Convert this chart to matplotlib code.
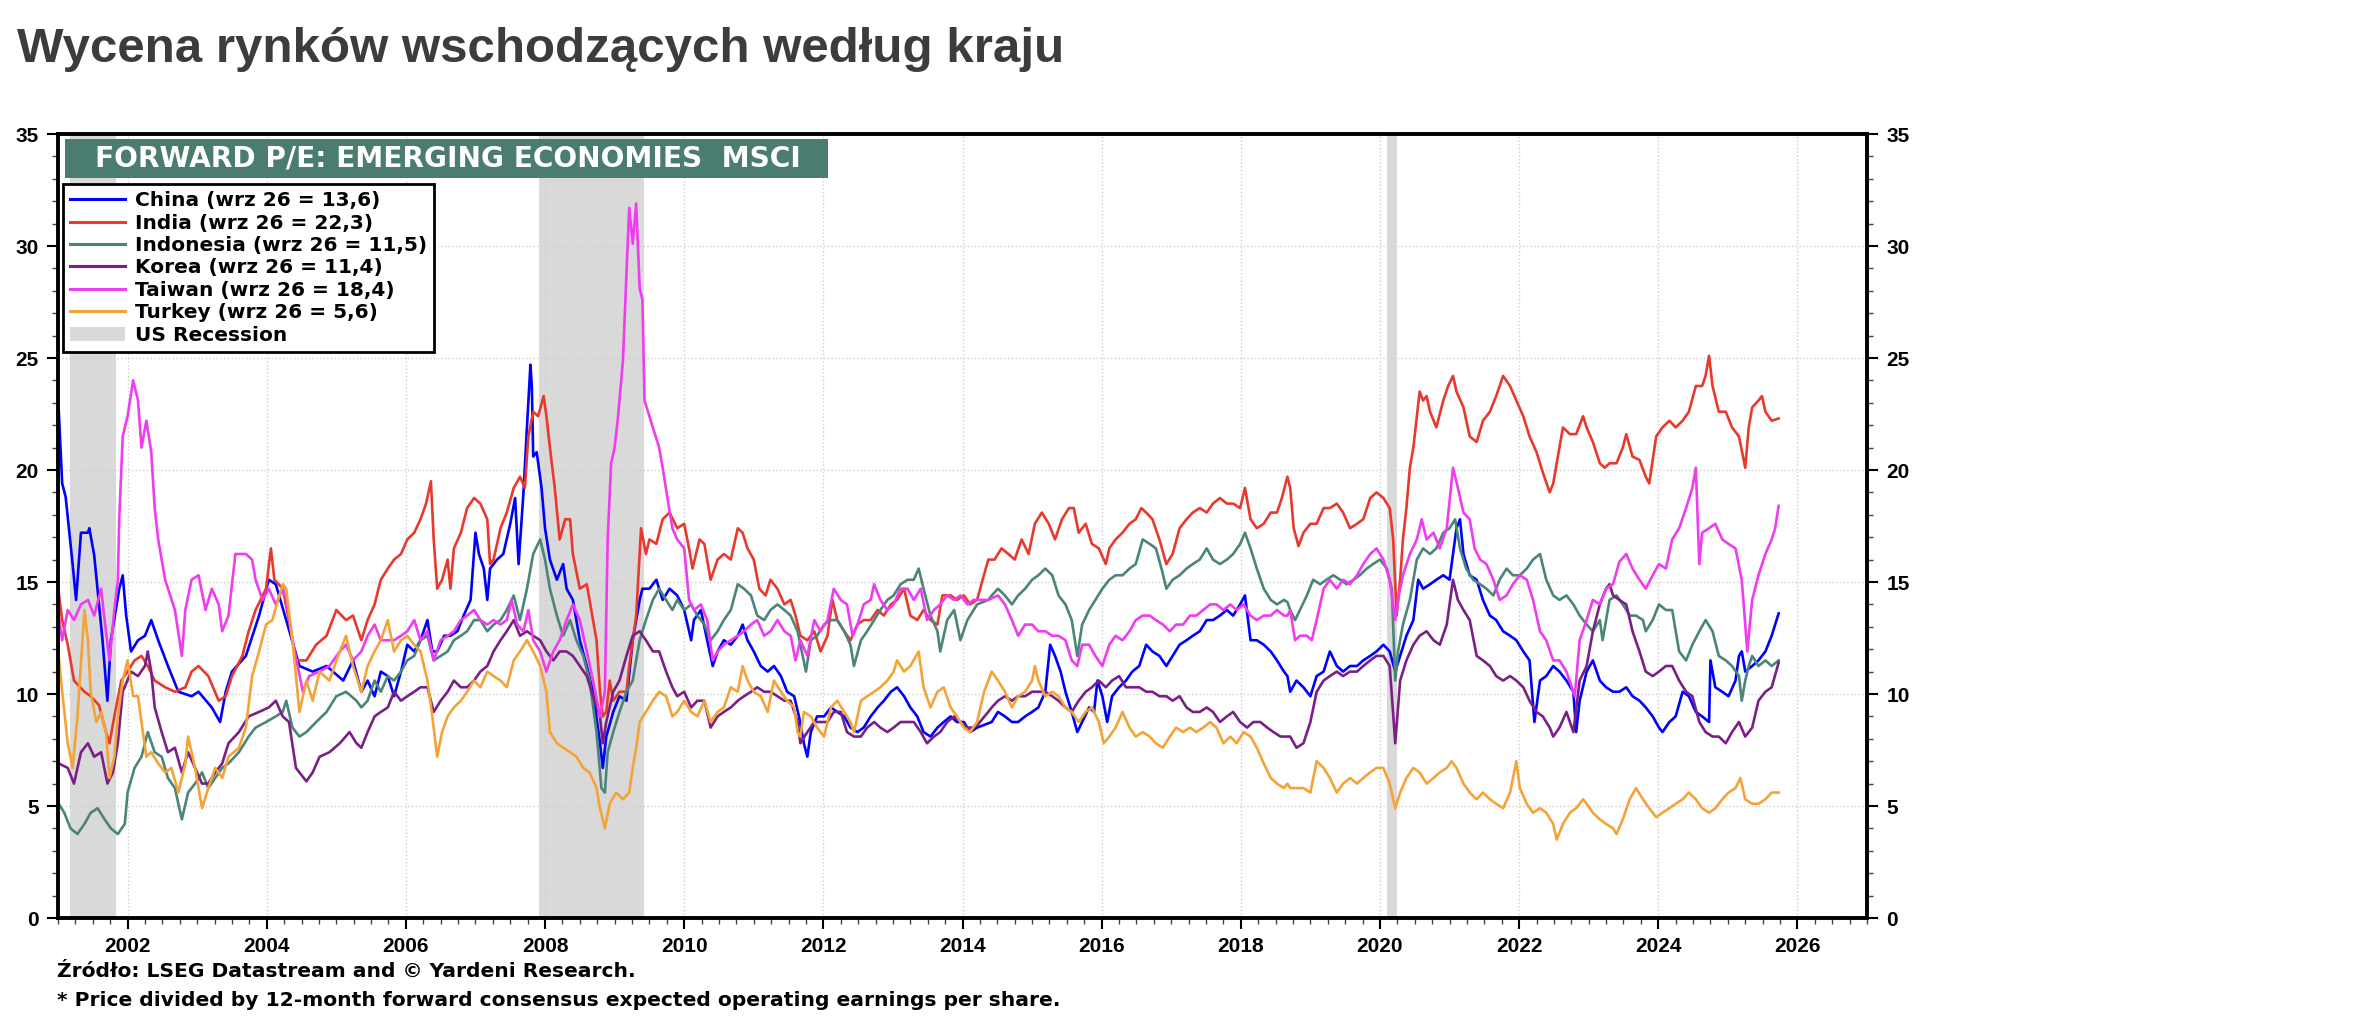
import numpy as np
import matplotlib.pyplot as plt
from matplotlib.patches import Rectangle, Patch
from matplotlib.lines import Line2D

plt.rcParams['font.family'] = ['Liberation Sans', 'DejaVu Sans']

# --- values (year, forward P/E) ---
china_t = [2001.01, 2001.06, 2001.11, 2001.21, 2001.26, 2001.33, 2001.43, 2001.45, 2001.52, 2001.64, 2001.71, 2001.76,
           2001.88, 2001.93, 2001.98, 2002.05, 2002.15, 2002.25, 2002.34, 2002.44, 2002.58, 2002.73, 2002.92, 2003.02,
           2003.21, 2003.33, 2003.41, 2003.50, 2003.70, 2003.89, 2004.03, 2004.13, 2004.28, 2004.47, 2004.66, 2004.86,
           2005.10, 2005.24, 2005.36, 2005.45, 2005.55, 2005.64, 2005.74, 2005.83, 2005.93, 2006.02, 2006.12, 2006.21,
           2006.31, 2006.38, 2006.45, 2006.55, 2006.64, 2006.74, 2006.83, 2006.93, 2007.00, 2007.05, 2007.12, 2007.17,
           2007.21, 2007.31, 2007.40, 2007.50, 2007.57, 2007.62, 2007.69, 2007.74, 2007.79, 2007.81, 2007.83, 2007.88,
           2007.95, 2008.00, 2008.07, 2008.17, 2008.26, 2008.31, 2008.40, 2008.50, 2008.60, 2008.69, 2008.79, 2008.83,
           2008.88, 2008.98, 2009.07, 2009.17, 2009.26, 2009.36, 2009.40, 2009.50, 2009.60, 2009.69, 2009.79, 2009.90,
           2010.00, 2010.10, 2010.14, 2010.24, 2010.33, 2010.41, 2010.48, 2010.57, 2010.67, 2010.77, 2010.84, 2010.91,
           2011.00, 2011.10, 2011.20, 2011.29, 2011.39, 2011.48, 2011.58, 2011.65, 2011.72, 2011.77, 2011.82, 2011.91,
           2012.01, 2012.11, 2012.20, 2012.30, 2012.39, 2012.49, 2012.58, 2012.68, 2012.78, 2012.87, 2012.97, 2013.06,
           2013.16, 2013.25, 2013.35, 2013.44, 2013.54, 2013.64, 2013.73, 2013.83, 2013.92, 2014.02, 2014.11, 2014.21,
           2014.42, 2014.51, 2014.61, 2014.71, 2014.80, 2014.90, 2015.00, 2015.09, 2015.19, 2015.26, 2015.33, 2015.41,
           2015.48, 2015.57, 2015.65, 2015.72, 2015.82, 2015.89, 2015.94, 2016.01, 2016.08, 2016.15, 2016.25, 2016.35,
           2016.44, 2016.54, 2016.64, 2016.73, 2016.83, 2016.93, 2017.02, 2017.12, 2017.22, 2017.31, 2017.41, 2017.51,
           2017.60, 2017.70, 2017.80, 2017.89, 2017.99, 2018.06, 2018.14, 2018.23, 2018.33, 2018.43, 2018.52, 2018.62,
           2018.67, 2018.71, 2018.80, 2018.90, 2019.00, 2019.09, 2019.19, 2019.28, 2019.38, 2019.47, 2019.57, 2019.67,
           2019.76, 2019.86, 2019.95, 2020.05, 2020.14, 2020.22, 2020.29, 2020.38, 2020.48, 2020.55, 2020.62, 2020.72,
           2020.81, 2020.91, 2021.00, 2021.10, 2021.15, 2021.20, 2021.29, 2021.39, 2021.48, 2021.58, 2021.67, 2021.77,
           2021.87, 2021.96, 2022.06, 2022.15, 2022.22, 2022.30, 2022.39, 2022.49, 2022.58, 2022.68, 2022.78, 2022.82,
           2022.87, 2022.97, 2023.06, 2023.16, 2023.25, 2023.35, 2023.44, 2023.54, 2023.63, 2023.73, 2023.82, 2023.92,
           2024.01, 2024.06, 2024.16, 2024.25, 2024.35, 2024.44, 2024.54, 2024.63, 2024.73, 2024.75, 2024.82, 2024.92,
           2025.01, 2025.11, 2025.16, 2025.20, 2025.25, 2025.35, 2025.44, 2025.54, 2025.63, 2025.73]
china_v = [22.7, 19.4, 18.8, 15.8, 14.2, 17.2, 17.2, 17.4, 16.2, 12.4, 9.7, 12.4,
           14.7, 15.3, 13.5, 11.9, 12.4, 12.6, 13.3, 12.4, 11.25, 10.1, 9.9, 10.1,
           9.4, 8.75, 10.1, 11.0, 11.7, 13.5, 15.1, 14.9, 13.3, 11.25, 11.0, 11.25,
           10.6, 11.5, 10.1, 10.6, 9.9, 11.0, 10.8, 9.9, 11.0, 12.2, 11.9, 12.4,
           13.3, 11.9, 11.9, 12.6, 12.6, 12.8, 13.5, 14.2, 17.2, 16.25, 15.6, 14.2,
           15.6, 16.0, 16.25, 17.6, 18.75, 15.8, 19.0, 21.9, 24.7, 23.75, 20.6, 20.8,
           19.2, 17.4, 16.0, 15.1, 15.8, 14.7, 14.2, 12.4, 11.25, 10.1, 7.8, 6.7,
           8.1, 9.2, 9.9, 9.7, 12.4, 14.2, 14.7, 14.7, 15.1, 14.2, 14.7, 14.4,
           13.75, 12.4, 13.3, 13.75, 12.4, 11.25, 11.9, 12.4, 12.2, 12.6, 13.1, 12.4,
           11.9, 11.25, 11.0, 11.25, 10.8, 10.1, 9.9, 9.0, 7.8, 7.2, 8.3, 9.0,
           9.0, 9.4, 9.2, 9.0, 8.5, 8.3, 8.5, 9.0, 9.4, 9.7, 10.1, 10.3,
           9.9, 9.4, 9.0, 8.3, 8.1, 8.5, 8.75, 9.0, 8.75, 8.75, 8.3, 8.5,
           8.75, 9.2, 9.0, 8.75, 8.75, 9.0, 9.2, 9.4, 10.1, 12.2, 11.7, 11.0,
           10.1, 9.2, 8.3, 8.75, 9.4, 9.2, 10.6, 9.9, 8.75, 9.9, 10.3, 10.6,
           11.0, 11.25, 12.2, 11.9, 11.7, 11.25, 11.7, 12.2, 12.4, 12.6, 12.8, 13.3,
           13.3, 13.5, 13.75, 13.5, 14.0, 14.4, 12.4, 12.4, 12.2, 11.9, 11.5, 11.0,
           10.8, 10.1, 10.6, 10.3, 9.9, 10.8, 11.0, 11.9, 11.25, 11.0, 11.25, 11.25,
           11.5, 11.7, 11.9, 12.2, 11.9, 11.0, 11.7, 12.6, 13.3, 15.1, 14.7, 14.9,
           15.1, 15.3, 15.1, 17.4, 17.8, 16.25, 15.3, 15.1, 14.2, 13.5, 13.3, 12.8,
           12.6, 12.4, 11.9, 11.5, 8.75, 10.6, 10.8, 11.25, 11.0, 10.6, 10.1, 8.3,
           9.7, 11.0, 11.5, 10.6, 10.3, 10.1, 10.1, 10.3, 9.9, 9.7, 9.4, 9.0,
           8.5, 8.3, 8.75, 9.0, 10.1, 9.9, 9.2, 9.0, 8.75, 11.5, 10.3, 10.1,
           9.9, 10.6, 11.7, 11.9, 11.0, 11.25, 11.5, 11.9, 12.6, 13.6]

india_t = [2001.01, 2001.06, 2001.14, 2001.23, 2001.38, 2001.47, 2001.59, 2001.69, 2001.74, 2001.81, 2001.91, 2002.00,
           2002.10, 2002.20, 2002.29, 2002.39, 2002.54, 2002.68, 2002.83, 2002.92, 2003.02, 2003.16, 2003.31, 2003.41,
           2003.50, 2003.65, 2003.74, 2003.84, 2003.99, 2004.06, 2004.11, 2004.23, 2004.32, 2004.42, 2004.57, 2004.71,
           2004.86, 2005.00, 2005.14, 2005.24, 2005.36, 2005.45, 2005.55, 2005.64, 2005.74, 2005.83, 2005.93, 2006.02,
           2006.12, 2006.21, 2006.29, 2006.36, 2006.40, 2006.45, 2006.52, 2006.60, 2006.64, 2006.69, 2006.79, 2006.88,
           2006.98, 2007.07, 2007.17, 2007.21, 2007.26, 2007.36, 2007.45, 2007.55, 2007.64, 2007.71, 2007.76, 2007.83,
           2007.90, 2007.98, 2008.02, 2008.07, 2008.14, 2008.21, 2008.29, 2008.36, 2008.40, 2008.50, 2008.60, 2008.69,
           2008.74, 2008.79, 2008.83, 2008.88, 2008.93, 2008.98, 2009.07, 2009.17, 2009.21, 2009.31, 2009.38, 2009.45,
           2009.50, 2009.60, 2009.69, 2009.79, 2009.90, 2010.00, 2010.07, 2010.12, 2010.22, 2010.29, 2010.38, 2010.48,
           2010.57, 2010.67, 2010.77, 2010.84, 2010.91, 2011.00, 2011.08, 2011.17, 2011.24, 2011.34, 2011.44, 2011.53,
           2011.60, 2011.67, 2011.77, 2011.87, 2011.96, 2012.06, 2012.13, 2012.20, 2012.30, 2012.39, 2012.49, 2012.58,
           2012.68, 2012.78, 2012.87, 2012.97, 2013.06, 2013.16, 2013.25, 2013.35, 2013.44, 2013.54, 2013.64, 2013.71,
           2013.83, 2013.92, 2014.02, 2014.11, 2014.21, 2014.37, 2014.46, 2014.56, 2014.66, 2014.75, 2014.85, 2014.95,
           2015.04, 2015.14, 2015.24, 2015.33, 2015.43, 2015.53, 2015.60, 2015.67, 2015.77, 2015.86, 2015.96, 2016.06,
           2016.11, 2016.20, 2016.30, 2016.40, 2016.49, 2016.57, 2016.64, 2016.73, 2016.83, 2016.93, 2017.02, 2017.12,
           2017.22, 2017.31, 2017.41, 2017.51, 2017.60, 2017.70, 2017.80, 2017.89, 2017.99, 2018.06, 2018.14, 2018.23,
           2018.33, 2018.43, 2018.52, 2018.59, 2018.67, 2018.71, 2018.76, 2018.83, 2018.90, 2019.00, 2019.09, 2019.19,
           2019.28, 2019.38, 2019.47, 2019.57, 2019.67, 2019.76, 2019.86, 2019.95, 2020.05, 2020.14, 2020.19, 2020.24,
           2020.29, 2020.33, 2020.38, 2020.43, 2020.48, 2020.53, 2020.57, 2020.62, 2020.67, 2020.72, 2020.81, 2020.91,
           2020.98, 2021.05, 2021.10, 2021.20, 2021.29, 2021.39, 2021.48, 2021.58, 2021.67, 2021.77, 2021.87, 2021.96,
           2022.06, 2022.15, 2022.25, 2022.34, 2022.44, 2022.49, 2022.54, 2022.63, 2022.73, 2022.82, 2022.92, 2022.97,
           2023.06, 2023.16, 2023.23, 2023.30, 2023.40, 2023.49, 2023.54, 2023.63, 2023.73, 2023.82, 2023.87, 2023.97,
           2024.06, 2024.16, 2024.25, 2024.35, 2024.44, 2024.54, 2024.63, 2024.68, 2024.73, 2024.78, 2024.87, 2024.97,
           2025.06, 2025.16, 2025.25, 2025.30, 2025.35, 2025.44, 2025.49, 2025.54, 2025.63, 2025.73]
india_v = [14.5, 13.3, 12.2, 10.6, 10.1, 9.9, 9.5, 8.3, 7.8, 9.0, 10.6, 11.0,
           11.5, 11.7, 11.25, 10.6, 10.3, 10.1, 10.3, 11.0, 11.25, 10.8, 9.7, 9.9,
           10.8, 11.7, 12.8, 13.75, 14.7, 16.5, 15.1, 14.7, 13.3, 11.5, 11.5, 12.2,
           12.6, 13.75, 13.3, 13.5, 12.4, 13.3, 14.0, 15.1, 15.6, 16.0, 16.25, 16.9,
           17.2, 17.8, 18.5, 19.5, 16.9, 14.7, 15.1, 16.0, 14.7, 16.5, 17.2, 18.3,
           18.75, 18.5, 17.8, 15.8, 16.0, 17.4, 18.1, 19.2, 19.7, 19.2, 21.5, 22.6,
           22.4, 23.3, 22.4, 21.0, 19.2, 16.9, 17.8, 17.8, 16.25, 14.7, 14.9, 13.3,
           12.4, 10.1, 9.0, 9.2, 10.6, 9.7, 10.1, 10.1, 11.25, 13.5, 17.4, 16.25,
           16.9, 16.7, 17.8, 18.1, 17.4, 17.6, 16.5, 15.6, 16.9, 16.7, 15.1, 16.0,
           16.25, 16.0, 17.4, 17.2, 16.5, 16.0, 14.7, 14.4, 15.1, 14.7, 14.0, 14.2,
           13.5, 12.6, 12.4, 12.8, 11.9, 12.6, 14.2, 13.3, 12.8, 12.4, 13.1, 13.3,
           13.3, 13.75, 13.5, 14.0, 14.2, 14.7, 13.5, 13.3, 13.75, 13.3, 13.1, 14.4,
           14.4, 14.2, 14.4, 14.0, 14.2, 16.0, 16.0, 16.5, 16.25, 16.0, 16.9, 16.25,
           17.6, 18.1, 17.6, 16.9, 17.8, 18.3, 18.3, 17.2, 17.6, 16.7, 16.5, 15.8,
           16.5, 16.9, 17.2, 17.6, 17.8, 18.3, 18.1, 17.8, 16.9, 15.8, 16.25, 17.4,
           17.8, 18.1, 18.3, 18.1, 18.5, 18.75, 18.5, 18.5, 18.3, 19.2, 17.8, 17.4,
           17.6, 18.1, 18.1, 18.75, 19.7, 19.2, 17.4, 16.6, 17.2, 17.6, 17.6, 18.3,
           18.3, 18.5, 18.1, 17.4, 17.6, 17.8, 18.75, 19.0, 18.75, 18.3, 16.9, 13.5,
           15.1, 16.9, 18.3, 20.1, 21.0, 22.4, 23.5, 23.1, 23.3, 22.6, 21.9, 23.1,
           23.75, 24.2, 23.5, 22.8, 21.5, 21.25, 22.2, 22.6, 23.3, 24.2, 23.75, 23.1,
           22.4, 21.5, 20.8, 19.9, 19.0, 19.4, 20.3, 21.9, 21.6, 21.6, 22.4, 21.9,
           21.25, 20.3, 20.1, 20.3, 20.3, 21.0, 21.6, 20.6, 20.45, 19.7, 19.4, 21.5,
           21.9, 22.2, 21.9, 22.2, 22.6, 23.75, 23.75, 24.2, 25.1, 23.75, 22.6, 22.6,
           21.9, 21.5, 20.1, 21.9, 22.8, 23.1, 23.3, 22.6, 22.2, 22.3]

indonesia_t = [2001.01, 2001.09, 2001.18, 2001.28, 2001.38, 2001.47, 2001.57, 2001.67, 2001.76, 2001.86, 2001.96, 2002.00,
               2002.10, 2002.20, 2002.29, 2002.39, 2002.49, 2002.58, 2002.68, 2002.78, 2002.87, 2002.97, 2003.07, 2003.16,
               2003.26, 2003.36, 2003.45, 2003.60, 2003.74, 2003.84, 2003.99, 2004.13, 2004.23, 2004.28, 2004.37, 2004.47,
               2004.57, 2004.71, 2004.86, 2005.00, 2005.14, 2005.29, 2005.36, 2005.45, 2005.55, 2005.64, 2005.74, 2005.83,
               2005.93, 2006.02, 2006.12, 2006.21, 2006.31, 2006.40, 2006.50, 2006.60, 2006.69, 2006.79, 2006.88, 2006.98,
               2007.07, 2007.17, 2007.26, 2007.36, 2007.45, 2007.55, 2007.64, 2007.74, 2007.83, 2007.93, 2008.00, 2008.07,
               2008.17, 2008.26, 2008.36, 2008.45, 2008.55, 2008.64, 2008.74, 2008.81, 2008.86, 2008.90, 2008.98, 2009.07,
               2009.17, 2009.26, 2009.36, 2009.45, 2009.55, 2009.64, 2009.74, 2009.83, 2009.90, 2010.00, 2010.10, 2010.19,
               2010.29, 2010.38, 2010.48, 2010.57, 2010.67, 2010.77, 2010.86, 2010.96, 2011.05, 2011.15, 2011.24, 2011.34,
               2011.44, 2011.53, 2011.63, 2011.75, 2011.82, 2011.91, 2012.01, 2012.11, 2012.20, 2012.30, 2012.39, 2012.44,
               2012.54, 2012.63, 2012.73, 2012.82, 2012.92, 2013.01, 2013.11, 2013.21, 2013.30, 2013.37, 2013.44, 2013.54,
               2013.64, 2013.68, 2013.78, 2013.88, 2013.97, 2014.07, 2014.16, 2014.21, 2014.37, 2014.42, 2014.51, 2014.61,
               2014.71, 2014.80, 2014.90, 2015.00, 2015.09, 2015.19, 2015.29, 2015.38, 2015.48, 2015.57, 2015.65, 2015.72,
               2015.82, 2015.91, 2016.01, 2016.11, 2016.20, 2016.30, 2016.40, 2016.49, 2016.59, 2016.69, 2016.78, 2016.86,
               2016.93, 2017.02, 2017.12, 2017.22, 2017.31, 2017.41, 2017.51, 2017.60, 2017.70, 2017.80, 2017.89, 2017.99,
               2018.06, 2018.14, 2018.23, 2018.33, 2018.43, 2018.52, 2018.62, 2018.67, 2018.71, 2018.78, 2018.85, 2018.95,
               2019.04, 2019.14, 2019.23, 2019.33, 2019.43, 2019.52, 2019.62, 2019.71, 2019.81, 2019.90, 2020.00, 2020.10,
               2020.17, 2020.22, 2020.26, 2020.33, 2020.43, 2020.53, 2020.62, 2020.72, 2020.81, 2020.91, 2021.00, 2021.08,
               2021.15, 2021.24, 2021.34, 2021.44, 2021.53, 2021.63, 2021.72, 2021.82, 2021.91, 2022.01, 2022.11, 2022.20,
               2022.30, 2022.39, 2022.49, 2022.58, 2022.68, 2022.78, 2022.87, 2022.97, 2023.06, 2023.16, 2023.20, 2023.30,
               2023.40, 2023.49, 2023.59, 2023.68, 2023.78, 2023.82, 2023.92, 2024.01, 2024.11, 2024.20, 2024.30, 2024.40,
               2024.49, 2024.59, 2024.68, 2024.78, 2024.87, 2024.97, 2025.06, 2025.16, 2025.20, 2025.25, 2025.30, 2025.35,
               2025.44, 2025.54, 2025.63, 2025.73]
indonesia_v = [5.1, 4.7, 4.0, 3.75, 4.2, 4.7, 4.9, 4.4, 4.0, 3.75, 4.2, 5.6,
               6.7, 7.2, 8.3, 7.4, 7.2, 6.25, 5.8, 4.4, 5.6, 6.0, 6.5, 5.8,
               6.25, 6.7, 6.9, 7.4, 8.1, 8.5, 8.75, 9.0, 9.2, 9.7, 8.5, 8.1,
               8.3, 8.75, 9.2, 9.9, 10.1, 9.7, 9.4, 9.7, 10.6, 10.1, 10.8, 10.6,
               11.0, 11.5, 11.7, 12.4, 12.6, 11.5, 11.7, 11.9, 12.4, 12.6, 12.8, 13.3,
               13.3, 12.8, 13.1, 13.3, 13.75, 14.4, 13.3, 14.7, 16.25, 16.9, 16.0, 14.7,
               13.5, 12.6, 13.3, 12.4, 11.7, 10.6, 8.3, 5.8, 5.6, 7.4, 8.3, 9.2,
               10.1, 10.6, 12.4, 13.3, 14.2, 14.7, 14.2, 13.75, 14.2, 13.75, 14.0, 13.5,
               13.1, 12.4, 12.8, 13.3, 13.75, 14.9, 14.7, 14.4, 13.5, 13.3, 13.75, 14.0,
               13.75, 13.5, 12.8, 11.0, 12.4, 12.6, 13.1, 13.3, 13.3, 12.8, 12.2, 11.25,
               12.4, 12.8, 13.3, 13.75, 14.2, 14.4, 14.9, 15.1, 15.1, 15.6, 14.7, 13.5,
               12.8, 11.9, 13.3, 13.75, 12.4, 13.3, 13.75, 14.0, 14.2, 14.4, 14.7, 14.4,
               14.0, 14.4, 14.7, 15.1, 15.3, 15.6, 15.3, 14.4, 14.0, 13.3, 11.7, 13.1,
               13.75, 14.2, 14.7, 15.1, 15.3, 15.3, 15.6, 15.8, 16.9, 16.7, 16.5, 15.6,
               14.7, 15.1, 15.3, 15.6, 15.8, 16.0, 16.5, 16.0, 15.8, 16.0, 16.25, 16.7,
               17.2, 16.5, 15.6, 14.7, 14.2, 14.0, 14.2, 14.1, 13.75, 13.3, 13.75, 14.4,
               15.1, 14.9, 15.1, 15.3, 15.1, 14.9, 15.1, 15.3, 15.6, 15.8, 16.0, 15.6,
               14.7, 10.6, 11.9, 13.1, 14.2, 16.0, 16.5, 16.25, 16.5, 17.2, 17.4, 17.8,
               16.5, 15.6, 15.1, 14.9, 14.7, 14.4, 15.1, 15.6, 15.3, 15.3, 15.6, 16.0,
               16.25, 15.1, 14.4, 14.2, 14.4, 14.0, 13.5, 13.1, 12.8, 13.3, 12.4, 14.2,
               14.4, 14.0, 13.5, 13.5, 13.3, 12.8, 13.3, 14.0, 13.75, 13.75, 11.9, 11.5,
               12.2, 12.8, 13.3, 12.8, 11.7, 11.5, 11.25, 10.8, 9.7, 10.6, 11.25, 11.7,
               11.25, 11.5, 11.25, 11.5]

korea_t = [2001.01, 2001.14, 2001.23, 2001.33, 2001.43, 2001.52, 2001.62, 2001.71, 2001.79, 2001.86, 2001.93, 2002.05,
           2002.15, 2002.25, 2002.29, 2002.34, 2002.39, 2002.49, 2002.58, 2002.68, 2002.78, 2002.87, 2002.97, 2003.07,
           2003.16, 2003.26, 2003.36, 2003.45, 2003.60, 2003.74, 2003.89, 2004.03, 2004.13, 2004.23, 2004.32, 2004.42,
           2004.57, 2004.66, 2004.76, 2004.90, 2005.05, 2005.19, 2005.29, 2005.36, 2005.45, 2005.55, 2005.64, 2005.74,
           2005.83, 2005.93, 2006.02, 2006.12, 2006.21, 2006.31, 2006.40, 2006.50, 2006.60, 2006.69, 2006.79, 2006.88,
           2006.98, 2007.07, 2007.17, 2007.26, 2007.36, 2007.45, 2007.55, 2007.64, 2007.74, 2007.83, 2007.93, 2008.02,
           2008.12, 2008.21, 2008.31, 2008.40, 2008.50, 2008.60, 2008.69, 2008.79, 2008.83, 2008.88, 2008.98, 2009.07,
           2009.17, 2009.26, 2009.36, 2009.45, 2009.55, 2009.64, 2009.74, 2009.83, 2009.90, 2010.00, 2010.10, 2010.19,
           2010.29, 2010.38, 2010.48, 2010.57, 2010.67, 2010.77, 2010.86, 2010.96, 2011.05, 2011.15, 2011.24, 2011.34,
           2011.44, 2011.53, 2011.63, 2011.67, 2011.77, 2011.87, 2011.96, 2012.06, 2012.15, 2012.25, 2012.34, 2012.44,
           2012.54, 2012.63, 2012.73, 2012.82, 2012.92, 2013.01, 2013.11, 2013.21, 2013.30, 2013.40, 2013.49, 2013.59,
           2013.68, 2013.78, 2013.88, 2013.97, 2014.07, 2014.16, 2014.21, 2014.37, 2014.42, 2014.51, 2014.61, 2014.71,
           2014.80, 2014.90, 2015.00, 2015.09, 2015.19, 2015.29, 2015.38, 2015.48, 2015.57, 2015.67, 2015.77, 2015.86,
           2015.96, 2016.06, 2016.15, 2016.25, 2016.35, 2016.44, 2016.54, 2016.64, 2016.73, 2016.83, 2016.93, 2017.02,
           2017.12, 2017.22, 2017.31, 2017.41, 2017.51, 2017.60, 2017.70, 2017.80, 2017.89, 2017.99, 2018.09, 2018.18,
           2018.28, 2018.38, 2018.47, 2018.57, 2018.67, 2018.71, 2018.80, 2018.90, 2019.00, 2019.09, 2019.19, 2019.28,
           2019.38, 2019.47, 2019.57, 2019.67, 2019.76, 2019.86, 2019.95, 2020.05, 2020.14, 2020.22, 2020.29, 2020.38,
           2020.48, 2020.57, 2020.67, 2020.77, 2020.86, 2020.96, 2021.05, 2021.12, 2021.20, 2021.29, 2021.39, 2021.48,
           2021.58, 2021.67, 2021.77, 2021.87, 2021.96, 2022.06, 2022.15, 2022.25, 2022.34, 2022.44, 2022.49, 2022.58,
           2022.68, 2022.78, 2022.87, 2022.97, 2023.06, 2023.16, 2023.25, 2023.30, 2023.35, 2023.44, 2023.54, 2023.63,
           2023.73, 2023.82, 2023.92, 2024.01, 2024.11, 2024.20, 2024.30, 2024.40, 2024.49, 2024.59, 2024.68, 2024.78,
           2024.87, 2024.97, 2025.06, 2025.16, 2025.25, 2025.35, 2025.44, 2025.54, 2025.63, 2025.73]
korea_v = [6.9, 6.7, 6.0, 7.4, 7.8, 7.2, 7.4, 6.0, 6.5, 7.8, 10.1, 11.0,
           10.8, 11.25, 11.9, 11.0, 9.4, 8.3, 7.4, 7.6, 6.5, 7.4, 6.7, 6.0,
           6.0, 6.5, 6.9, 7.8, 8.3, 9.0, 9.2, 9.4, 9.7, 9.0, 8.75, 6.7,
           6.1, 6.5, 7.2, 7.4, 7.8, 8.3, 7.8, 7.6, 8.3, 9.0, 9.2, 9.4,
           10.1, 9.7, 9.9, 10.1, 10.3, 10.3, 9.2, 9.7, 10.1, 10.6, 10.3, 10.3,
           10.6, 11.0, 11.25, 11.9, 12.4, 12.8, 13.3, 12.6, 12.8, 12.6, 12.4, 11.9,
           11.5, 11.9, 11.9, 11.7, 11.25, 10.8, 9.9, 9.0, 7.8, 8.75, 10.1, 10.6,
           11.7, 12.6, 12.8, 12.4, 11.9, 11.9, 11.0, 10.3, 9.9, 10.1, 9.4, 9.7,
           9.7, 8.5, 9.0, 9.2, 9.4, 9.7, 9.9, 10.1, 10.3, 10.1, 10.1, 9.9,
           9.7, 9.7, 8.75, 7.8, 8.3, 8.75, 8.75, 8.75, 9.2, 9.2, 8.3, 8.1,
           8.1, 8.5, 8.75, 8.5, 8.3, 8.5, 8.75, 8.75, 8.75, 8.3, 7.8, 8.1,
           8.3, 8.75, 9.0, 8.75, 8.5, 8.5, 8.6, 9.2, 9.4, 9.7, 9.9, 9.7,
           9.9, 9.9, 10.1, 10.1, 10.1, 9.9, 9.7, 9.4, 9.2, 9.7, 10.1, 10.3,
           10.6, 10.3, 10.6, 10.8, 10.3, 10.3, 10.3, 10.1, 10.1, 9.9, 9.9, 9.7,
           9.9, 9.4, 9.2, 9.2, 9.4, 9.2, 8.75, 9.0, 9.2, 8.75, 8.5, 8.75,
           8.75, 8.5, 8.3, 8.1, 8.1, 8.1, 7.6, 7.8, 8.75, 10.1, 10.6, 10.8,
           11.0, 10.8, 11.0, 11.0, 11.25, 11.5, 11.7, 11.7, 11.25, 7.8, 10.6, 11.5,
           12.2, 12.6, 12.8, 12.4, 12.2, 13.1, 15.1, 14.2, 13.75, 13.3, 11.7, 11.5,
           11.25, 10.8, 10.6, 10.8, 10.6, 10.3, 9.7, 9.2, 9.0, 8.5, 8.1, 8.5,
           9.2, 8.3, 10.6, 11.25, 12.8, 14.0, 14.7, 14.9, 14.4, 14.2, 14.0, 12.8,
           11.9, 11.0, 10.8, 11.0, 11.25, 11.25, 10.6, 10.1, 9.9, 8.75, 8.3, 8.1,
           8.1, 7.8, 8.3, 8.75, 8.1, 8.5, 9.7, 10.1, 10.3, 11.4]

taiwan_t = [2001.01, 2001.06, 2001.14, 2001.23, 2001.33, 2001.43, 2001.52, 2001.62, 2001.67, 2001.74, 2001.81, 2001.86,
            2001.88, 2001.93, 2002.00, 2002.08, 2002.15, 2002.20, 2002.27, 2002.34, 2002.39, 2002.44, 2002.54, 2002.68,
            2002.78, 2002.83, 2002.92, 2003.02, 2003.12, 2003.21, 2003.31, 2003.36, 2003.45, 2003.55, 2003.70, 2003.79,
            2003.84, 2003.94, 2004.03, 2004.13, 2004.23, 2004.28, 2004.37, 2004.52, 2004.61, 2004.76, 2004.90, 2005.05,
            2005.14, 2005.24, 2005.36, 2005.45, 2005.55, 2005.64, 2005.74, 2005.83, 2005.93, 2006.02, 2006.12, 2006.21,
            2006.31, 2006.40, 2006.50, 2006.60, 2006.69, 2006.79, 2006.88, 2006.98, 2007.07, 2007.17, 2007.26, 2007.36,
            2007.45, 2007.52, 2007.60, 2007.69, 2007.76, 2007.83, 2007.93, 2008.02, 2008.12, 2008.21, 2008.31, 2008.40,
            2008.50, 2008.60, 2008.69, 2008.79, 2008.86, 2008.90, 2008.95, 2009.00, 2009.05, 2009.12, 2009.17, 2009.21,
            2009.26, 2009.31, 2009.36, 2009.40, 2009.43, 2009.50, 2009.55, 2009.64, 2009.69, 2009.76, 2009.83, 2009.90,
            2010.00, 2010.07, 2010.14, 2010.24, 2010.33, 2010.41, 2010.48, 2010.57, 2010.67, 2010.77, 2010.86, 2010.96,
            2011.05, 2011.15, 2011.24, 2011.34, 2011.44, 2011.53, 2011.60, 2011.67, 2011.77, 2011.87, 2011.96, 2012.06,
            2012.15, 2012.25, 2012.34, 2012.42, 2012.49, 2012.58, 2012.68, 2012.73, 2012.82, 2012.92, 2013.01, 2013.11,
            2013.21, 2013.30, 2013.40, 2013.49, 2013.59, 2013.68, 2013.78, 2013.88, 2013.97, 2014.07, 2014.16, 2014.21,
            2014.37, 2014.51, 2014.61, 2014.71, 2014.80, 2014.90, 2015.00, 2015.09, 2015.19, 2015.29, 2015.38, 2015.48,
            2015.57, 2015.65, 2015.72, 2015.82, 2015.91, 2016.01, 2016.11, 2016.20, 2016.30, 2016.40, 2016.49, 2016.59,
            2016.69, 2016.78, 2016.88, 2016.98, 2017.07, 2017.17, 2017.27, 2017.36, 2017.46, 2017.56, 2017.65, 2017.75,
            2017.85, 2017.94, 2018.04, 2018.14, 2018.23, 2018.33, 2018.43, 2018.52, 2018.62, 2018.67, 2018.71, 2018.78,
            2018.85, 2018.95, 2019.02, 2019.09, 2019.19, 2019.28, 2019.38, 2019.47, 2019.57, 2019.67, 2019.76, 2019.86,
            2019.95, 2020.05, 2020.14, 2020.22, 2020.26, 2020.33, 2020.43, 2020.53, 2020.60, 2020.67, 2020.77, 2020.86,
            2020.96, 2021.05, 2021.12, 2021.20, 2021.29, 2021.36, 2021.44, 2021.53, 2021.63, 2021.72, 2021.82, 2021.91,
            2022.01, 2022.11, 2022.20, 2022.30, 2022.39, 2022.49, 2022.58, 2022.68, 2022.80, 2022.87, 2022.97, 2023.06,
            2023.16, 2023.25, 2023.35, 2023.44, 2023.54, 2023.63, 2023.73, 2023.82, 2023.92, 2024.01, 2024.11, 2024.20,
            2024.30, 2024.40, 2024.49, 2024.54, 2024.59, 2024.63, 2024.73, 2024.82, 2024.92, 2025.01, 2025.11, 2025.20,
            2025.28, 2025.35, 2025.44, 2025.54, 2025.63, 2025.68, 2025.73]
taiwan_v = [13.5, 12.4, 13.75, 13.3, 14.0, 14.2, 13.5, 14.7, 13.3, 11.5, 13.75, 15.1,
            17.8, 21.5, 22.4, 24.0, 23.1, 21.0, 22.2, 20.8, 18.3, 16.9, 15.1, 13.75,
            11.7, 13.75, 15.1, 15.3, 13.75, 14.7, 14.0, 12.8, 13.5, 16.25, 16.25, 16.0,
            15.1, 14.2, 14.7, 14.0, 14.7, 14.2, 12.4, 10.1, 10.8, 11.0, 11.25, 11.9,
            12.2, 11.5, 11.9, 12.6, 13.1, 12.4, 12.4, 12.4, 12.6, 12.8, 13.3, 12.4,
            12.8, 11.5, 12.4, 12.6, 12.8, 13.3, 13.5, 13.75, 13.3, 13.1, 13.3, 13.1,
            13.3, 14.2, 13.1, 12.8, 13.75, 12.4, 11.9, 11.0, 11.9, 12.4, 13.3, 14.0,
            13.3, 11.9, 10.6, 9.0, 10.1, 16.9, 20.3, 21.0, 22.4, 24.9, 28.75, 31.7,
            30.1, 31.9, 28.1, 27.6, 23.1, 22.4, 21.9, 21.0, 20.1, 18.75, 17.4, 16.9,
            16.5, 14.2, 13.75, 14.0, 13.3, 11.5, 11.9, 12.2, 12.4, 12.6, 12.8, 13.1,
            13.3, 12.6, 12.8, 13.3, 12.8, 12.6, 11.5, 12.4, 11.7, 13.3, 12.8, 13.3,
            14.7, 14.2, 14.0, 12.6, 13.1, 14.0, 14.2, 14.9, 14.2, 13.75, 14.0, 14.7,
            14.7, 14.2, 14.7, 13.3, 13.75, 14.0, 14.4, 14.2, 14.4, 14.0, 14.2, 14.2,
            14.2, 14.4, 14.0, 13.3, 12.6, 13.1, 13.1, 12.8, 12.8, 12.6, 12.6, 12.4,
            11.5, 11.25, 12.2, 12.2, 11.7, 11.25, 12.2, 12.6, 12.4, 12.8, 13.3, 13.5,
            13.5, 13.3, 13.1, 12.8, 13.1, 13.1, 13.5, 13.5, 13.75, 14.0, 14.0, 13.75,
            14.0, 13.75, 14.0, 13.5, 13.3, 13.5, 13.5, 13.75, 13.5, 13.5, 13.75, 12.4,
            12.6, 12.6, 12.4, 13.3, 14.7, 15.1, 14.7, 15.1, 14.9, 15.3, 15.8, 16.25,
            16.5, 16.0, 15.1, 13.3, 14.2, 15.3, 16.25, 16.9, 17.8, 16.9, 17.2, 16.5,
            17.4, 20.1, 19.2, 18.1, 17.8, 16.5, 16.0, 15.8, 15.1, 14.2, 14.4, 14.9,
            15.3, 15.1, 14.2, 12.8, 12.4, 11.5, 11.5, 11.0, 9.9, 12.4, 13.3, 14.2,
            14.0, 14.7, 14.9, 15.9, 16.25, 15.6, 15.1, 14.7, 15.3, 15.8, 15.6, 16.9,
            17.4, 18.3, 19.2, 20.1, 15.8, 17.2, 17.4, 17.6, 16.9, 16.7, 16.5, 15.1,
            11.9, 14.2, 15.3, 16.25, 16.9, 17.4, 18.4]

turkey_t = [2001.01, 2001.06, 2001.14, 2001.21, 2001.28, 2001.38, 2001.43, 2001.47, 2001.55, 2001.62, 2001.69, 2001.74,
            2001.81, 2001.86, 2001.93, 2002.00, 2002.08, 2002.15, 2002.22, 2002.27, 2002.34, 2002.44, 2002.54, 2002.63,
            2002.73, 2002.83, 2002.87, 2002.97, 2003.07, 2003.16, 2003.26, 2003.36, 2003.45, 2003.60, 2003.70, 2003.79,
            2003.89, 2003.99, 2004.08, 2004.23, 2004.28, 2004.37, 2004.47, 2004.57, 2004.66, 2004.76, 2004.90, 2005.05,
            2005.14, 2005.24, 2005.36, 2005.45, 2005.55, 2005.64, 2005.74, 2005.83, 2005.93, 2006.02, 2006.12, 2006.21,
            2006.31, 2006.38, 2006.45, 2006.52, 2006.60, 2006.69, 2006.79, 2006.88, 2006.98, 2007.07, 2007.17, 2007.26,
            2007.36, 2007.45, 2007.55, 2007.64, 2007.74, 2007.83, 2007.93, 2008.02, 2008.07, 2008.17, 2008.26, 2008.36,
            2008.45, 2008.55, 2008.64, 2008.74, 2008.79, 2008.86, 2008.93, 2009.02, 2009.12, 2009.21, 2009.26, 2009.31,
            2009.36, 2009.45, 2009.55, 2009.64, 2009.74, 2009.83, 2009.90, 2010.00, 2010.10, 2010.19, 2010.29, 2010.38,
            2010.48, 2010.57, 2010.67, 2010.77, 2010.84, 2010.91, 2011.00, 2011.10, 2011.20, 2011.29, 2011.39, 2011.48,
            2011.58, 2011.63, 2011.67, 2011.72, 2011.82, 2011.91, 2012.01, 2012.11, 2012.20, 2012.30, 2012.39, 2012.44,
            2012.54, 2012.63, 2012.73, 2012.82, 2012.92, 2013.01, 2013.06, 2013.16, 2013.25, 2013.37, 2013.44, 2013.54,
            2013.64, 2013.73, 2013.83, 2013.92, 2014.02, 2014.11, 2014.21, 2014.31, 2014.42, 2014.51, 2014.61, 2014.71,
            2014.80, 2014.90, 2015.00, 2015.04, 2015.09, 2015.19, 2015.29, 2015.38, 2015.48, 2015.57, 2015.67, 2015.77,
            2015.86, 2015.96, 2016.03, 2016.11, 2016.20, 2016.30, 2016.40, 2016.49, 2016.59, 2016.69, 2016.78, 2016.88,
            2016.98, 2017.07, 2017.17, 2017.27, 2017.36, 2017.46, 2017.56, 2017.65, 2017.75, 2017.85, 2017.94, 2018.04,
            2018.14, 2018.23, 2018.33, 2018.43, 2018.52, 2018.62, 2018.67, 2018.71, 2018.90, 2019.00, 2019.09, 2019.19,
            2019.28, 2019.38, 2019.47, 2019.57, 2019.67, 2019.76, 2019.86, 2019.95, 2020.05, 2020.14, 2020.22, 2020.29,
            2020.38, 2020.48, 2020.57, 2020.67, 2020.77, 2020.86, 2020.96, 2021.03, 2021.10, 2021.20, 2021.29, 2021.39,
            2021.48, 2021.58, 2021.67, 2021.77, 2021.87, 2021.96, 2022.01, 2022.11, 2022.20, 2022.30, 2022.39, 2022.49,
            2022.54, 2022.63, 2022.73, 2022.82, 2022.92, 2022.97, 2023.06, 2023.16, 2023.25, 2023.35, 2023.40, 2023.49,
            2023.59, 2023.68, 2023.78, 2023.87, 2023.97, 2024.06, 2024.16, 2024.25, 2024.35, 2024.44, 2024.54, 2024.63,
            2024.73, 2024.82, 2024.92, 2025.01, 2025.11, 2025.18, 2025.25, 2025.35, 2025.44, 2025.54, 2025.63, 2025.73]
turkey_v = [11.7, 10.1, 7.8, 6.7, 9.0, 13.75, 12.4, 10.1, 8.75, 9.2, 8.3, 6.25,
            7.2, 9.0, 10.6, 11.5, 9.9, 9.9, 8.3, 7.2, 7.4, 6.9, 6.5, 6.7,
            5.6, 6.9, 8.1, 6.7, 4.9, 5.8, 6.7, 6.25, 7.2, 7.6, 8.5, 10.8,
            11.9, 13.1, 13.3, 14.9, 14.7, 12.4, 9.2, 10.6, 9.7, 11.0, 10.6, 11.9,
            12.6, 11.25, 10.1, 11.25, 11.9, 12.4, 13.3, 11.9, 12.4, 12.6, 12.2, 11.9,
            10.6, 9.0, 7.2, 8.3, 9.0, 9.4, 9.7, 10.1, 10.6, 10.3, 11.0, 10.8,
            10.6, 10.3, 11.5, 11.9, 12.4, 11.9, 11.25, 10.1, 8.3, 7.8, 7.6, 7.4,
            7.2, 6.7, 6.5, 5.8, 4.9, 4.0, 5.1, 5.6, 5.3, 5.6, 6.7, 7.6,
            8.75, 9.2, 9.7, 10.1, 9.9, 9.0, 9.2, 9.7, 9.2, 9.0, 9.7, 8.75,
            9.2, 9.4, 10.3, 10.1, 11.25, 10.6, 10.1, 9.9, 9.2, 10.6, 10.1, 9.7,
            9.4, 8.3, 8.1, 9.2, 9.0, 8.5, 8.1, 9.4, 9.7, 9.2, 8.75, 8.3,
            9.7, 9.9, 10.1, 10.3, 10.6, 11.0, 11.5, 11.0, 11.25, 11.9, 10.3, 9.4,
            10.1, 10.3, 9.4, 9.0, 8.5, 8.3, 8.75, 10.1, 11.0, 10.6, 10.1, 9.4,
            9.9, 10.1, 10.6, 11.25, 10.6, 9.9, 10.1, 9.9, 9.4, 9.2, 8.75, 9.2,
            9.4, 8.75, 7.8, 8.1, 8.5, 9.2, 8.5, 8.1, 8.3, 8.1, 7.8, 7.6,
            8.1, 8.5, 8.3, 8.5, 8.3, 8.5, 8.75, 8.5, 7.8, 8.1, 7.8, 8.3,
            8.1, 7.6, 6.9, 6.25, 6.0, 5.8, 6.0, 5.8, 5.8, 5.6, 7.0, 6.7,
            6.25, 5.6, 6.0, 6.25, 6.0, 6.25, 6.5, 6.7, 6.7, 6.0, 4.9, 5.6,
            6.25, 6.7, 6.5, 6.0, 6.25, 6.5, 6.7, 7.0, 6.7, 6.0, 5.6, 5.3,
            5.6, 5.3, 5.1, 4.9, 5.6, 7.0, 5.8, 5.1, 4.7, 4.9, 4.7, 4.2,
            3.5, 4.2, 4.7, 4.9, 5.3, 5.1, 4.7, 4.4, 4.2, 4.0, 3.75, 4.4,
            5.3, 5.8, 5.3, 4.9, 4.5, 4.7, 4.9, 5.1, 5.3, 5.6, 5.3, 4.9,
            4.7, 4.9, 5.3, 5.6, 5.8, 6.25, 5.3, 5.1, 5.1, 5.3, 5.6, 5.6]

labels = ['China (wrz 26 = 13,6)', 'India (wrz 26 = 22,3)', 'Indonesia (wrz 26 = 11,5)',
          'Korea (wrz 26 = 11,4)', 'Taiwan (wrz 26 = 18,4)', 'Turkey (wrz 26 = 5,6)']
colors = ['#0000ff', '#e8392c', '#4a8578', '#7a1f86', '#f03cf0', '#f4a338']

# US recessions (start, end in fractional years)
rec_start = [2001.17, 2007.92, 2020.10]
rec_end = [2001.84, 2009.42, 2020.25]

W, H = 2368, 1026
fig = plt.figure(figsize=(W / 100, H / 100), dpi=100)
ax = fig.add_axes([58 / W, 1 - 918 / H, 1809 / W, 784 / H])

for s, e in zip(rec_start, rec_end):
    ax.axvspan(s, e, color='#d9d9d9', lw=0, zorder=0)

series = [(china_t, china_v), (india_t, india_v), (indonesia_t, indonesia_v),
          (korea_t, korea_v), (taiwan_t, taiwan_v), (turkey_t, turkey_v)]
for (t, v), c in zip(series, colors):
    ax.plot(t, v, color=c, lw=1.9, zorder=2)

ax.set_xlim(2001.0, 2027.0)
ax.set_ylim(0, 35)
ax.set_xticks(np.arange(2002, 2027, 2))
ax.set_xticks(np.arange(2001, 2027.01, 0.25), minor=True)
ax.set_yticks(np.arange(0, 36, 5))
ax.set_yticks(np.arange(0, 36, 1), minor=True)
ax.grid(True, which='major', color='#cfcfcf', ls=':', lw=1.0, zorder=1)

ax.tick_params(which='both', direction='out', left=True, right=True, labelright=True, bottom=True)
ax.tick_params(which='major', length=8, width=1.5, labelsize=15, pad=6)
ax.tick_params(which='minor', length=4, width=1.0, color='#444444')
for lab in ax.xaxis.get_majorticklabels() + ax.yaxis.get_majorticklabels():
    lab.set_fontweight('bold')
for sp in ax.spines.values():
    sp.set_linewidth(2.8)

# header band
ax.add_patch(Rectangle((0.004, 0.944), 0.4217, 0.0496, transform=ax.transAxes,
                       facecolor='#4a7d70', edgecolor='none', zorder=5))
ax.text(0.2155, 0.969, 'FORWARD P/E: EMERGING ECONOMIES  MSCI', transform=ax.transAxes,
        color='white', fontsize=20.2, fontweight='bold', family='DejaVu Sans',
        ha='center', va='center', zorder=6)

handles = [Line2D([], [], color=c, lw=2.2) for c in colors]
handles.append(Patch(facecolor='#d9d9d9', edgecolor='none'))
leg = ax.legend(handles, labels + ['US Recession'], loc='upper left', bbox_to_anchor=(0.003, 0.936),
                borderaxespad=0, frameon=True, fancybox=False, edgecolor='black', framealpha=1,
                prop={'weight': 'bold', 'size': 14.5, 'family': 'DejaVu Sans'},
                handlelength=2.7, handletextpad=0.5, labelspacing=0.17, borderpad=0.35)
leg.get_frame().set_linewidth(2)
leg.set_zorder(7)

fig.text(17 / W, 1 - 62 / H, 'Wycena rynków wschodzących według kraju', fontsize=35.5,
         fontweight='bold', color='#3c3c3c', ha='left', va='baseline')
fig.text(57 / W, 1 - 971 / H, 'Źródło: LSEG Datastream and © Yardeni Research.', fontsize=14.6,
         fontweight='bold', family='DejaVu Sans', ha='left', va='center')
fig.text(57 / W, 1 - 1000 / H, '* Price divided by 12-month forward consensus expected operating earnings per share.',
         fontsize=14.6, fontweight='bold', family='DejaVu Sans', ha='left', va='center')

fig.savefig('out.png', dpi=100, facecolor='white')
